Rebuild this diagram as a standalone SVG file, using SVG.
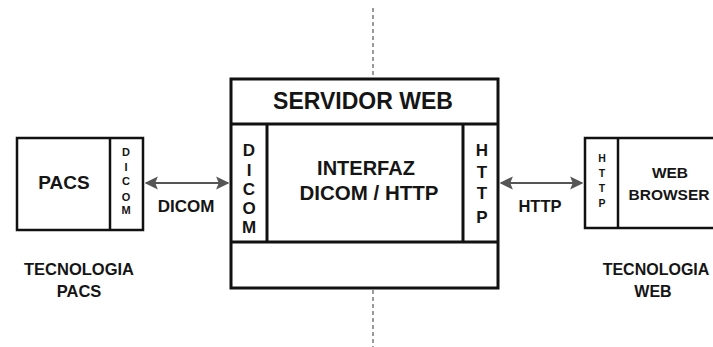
<svg xmlns="http://www.w3.org/2000/svg" width="713" height="347" viewBox="0 0 713 347">
<style>
.box{fill:#fff;stroke:#111;stroke-width:2.5}
.thick{stroke:#111;stroke-width:3;fill:none}
.t{font-family:"Liberation Sans",Arial,sans-serif;font-weight:bold;fill:#151515;text-anchor:middle}
.conn{stroke:#555;stroke-width:2.2;fill:none}
.dash{stroke:#666;stroke-width:1.3;stroke-dasharray:4 3;fill:none}
</style>
<defs>
<marker id="ah" viewBox="0 0 10 10" refX="9" refY="5" markerWidth="6" markerHeight="6" orient="auto-start-reverse" markerUnits="strokeWidth">
<path d="M0,0 L10,5 L0,10 L2,5 Z" fill="#555"/>
</marker>
</defs>
<g id="divider">
<line class="dash" x1="373" y1="8" x2="373" y2="78"/>
<line class="dash" x1="373" y1="290" x2="373" y2="347"/>
</g>
<g id="connectors">
<line class="conn" x1="146" y1="183" x2="228" y2="183" marker-start="url(#ah)" marker-end="url(#ah)"/>
<text class="t" x="186" y="212" font-size="17">DICOM</text>
<line class="conn" x1="501" y1="183" x2="582" y2="183" marker-start="url(#ah)" marker-end="url(#ah)"/>
<text class="t" x="540" y="212" font-size="16.5">HTTP</text>
</g>
<g id="pacs">
<rect class="box" x="17" y="138" width="126" height="92"/>
<line class="thick" x1="110" y1="138" x2="110" y2="230" style="stroke-width:2.5"/>
<text class="t" x="64" y="189" font-size="19">PACS</text>
<g class="t" font-size="11" font-weight="normal">
<text x="126" y="156">D</text>
<text x="126" y="171">I</text>
<text x="126" y="185">C</text>
<text x="126" y="201">O</text>
<text x="126" y="214">M</text>
</g>
<text class="t" x="79" y="275" font-size="16.5">TECNOLOGIA</text>
<text class="t" x="79" y="297" font-size="16.5">PACS</text>
</g>
<g id="servidor">
<rect class="box" x="231" y="79" width="267" height="209" style="stroke-width:3"/>
<line class="thick" x1="231" y1="124" x2="498" y2="124"/>
<line class="thick" x1="231" y1="242" x2="498" y2="242"/>
<line class="thick" x1="267" y1="124" x2="267" y2="242"/>
<line class="thick" x1="463" y1="124" x2="463" y2="242"/>
<text class="t" x="363" y="109" font-size="23">SERVIDOR WEB</text>
<text class="t" x="366" y="175" font-size="20">INTERFAZ</text>
<text class="t" x="369" y="200" font-size="20.5">DICOM / HTTP</text>
<g class="t" font-size="17">
<text x="249" y="156">D</text>
<text x="249" y="176">I</text>
<text x="249" y="195">C</text>
<text x="249" y="214">O</text>
<text x="249" y="233">M</text>
<text x="482" y="156">H</text>
<text x="482" y="178">T</text>
<text x="482" y="199">T</text>
<text x="482" y="223">P</text>
</g>
</g>
<g id="browser">
<rect class="box" x="585" y="138" width="130" height="90"/>
<line class="thick" x1="618" y1="138" x2="618" y2="228" style="stroke-width:2.5"/>
<g class="t" font-size="10.5" font-weight="normal">
<text x="602" y="162">H</text>
<text x="602" y="177">T</text>
<text x="602" y="192">T</text>
<text x="602" y="207">P</text>
</g>
<text class="t" x="670" y="178" font-size="15.5">WEB</text>
<text class="t" x="669" y="200" font-size="15.5">BROWSER</text>
<text class="t" x="656" y="275" font-size="16">TECNOLOGIA</text>
<text class="t" x="653" y="297" font-size="16">WEB</text>
</g>
</svg>
